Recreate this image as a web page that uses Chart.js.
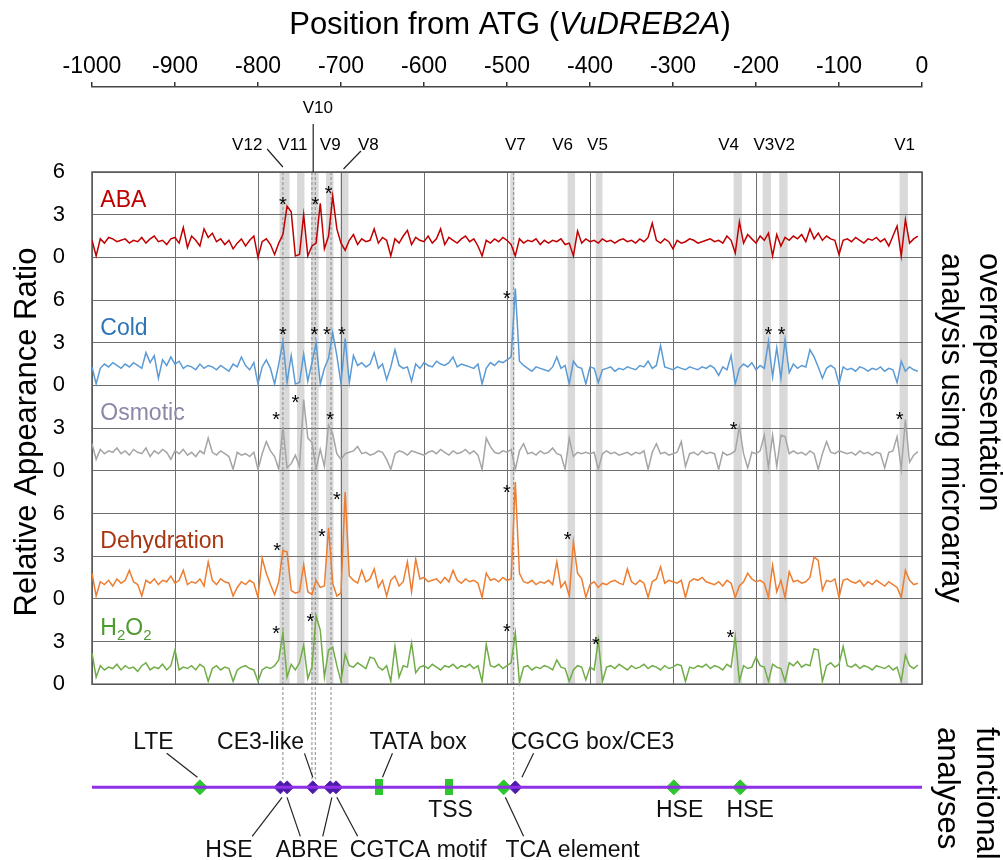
<!DOCTYPE html>
<html>
<head>
<meta charset="utf-8">
<title>VuDREB2A promoter</title>
<script src="https://cdn.jsdelivr.net/npm/chart.js@4.4.1/dist/chart.umd.min.js"></script>
<style>
  html, body { margin: 0; padding: 0; background: #fff; }
  #wrap { width: 1003px; height: 860px; }
</style>
</head>
<body>
<div id="wrap"><canvas id="chart" width="1003" height="860"></canvas></div>
<script>
// --- Values: one point every 5 bp, from -1000 upward ---
const START_POS = -1000;
const STEP = 5;

const abaValues = [
  1.2, 0.1, 1.3, 1.0, 1.4, 1.3, 1.1, 1.2, 1.3, 1.0,
  1.2, 1.1, 1.4, 1.0, 1.3, 1.5, 1.1, 1.2, 0.9, 1.3,
  1.4, 1.0, 2.1, 0.7, 1.5, 1.2, 0.8, 2.0, 1.4, 1.7,
  1.1, 1.3, 0.9, 1.2, 0.6, 1.0, 1.3, 0.8, 1.2, 1.5,
  0.0, 1.1, 1.3, 0.9, 0.2, 1.0, 1.6, 3.6, 3.2, 0.1,
  0.2, 3.0, 0.1, 0.8, 1.0, 3.8, 0.6, 1.5, 4.3, 2.0,
  1.0, 0.5, 1.2, 1.6, 0.9, 1.3, 1.1, 1.2, 2.0, 1.0,
  1.4, 1.2, 0.1, 1.3, 1.0, 1.5, 1.9, 0.9, 1.4, 1.2,
  1.1, 1.5, 1.0, 1.3, 2.0, 0.9, 1.4, 1.2, 1.0, 1.3,
  1.5, 1.1, 1.3, 0.8, 0.1, 1.2, 1.0, 1.3, 1.1, 1.4,
  1.2, 0.9, 0.1, 1.3, 1.0, 1.2, 1.1, 1.3, 0.9, 1.2,
  1.0, 1.2, 1.1, 1.3, 0.9, 1.0, 0.1, 1.85, 1.0, 1.3,
  1.1, 1.2, 1.0, 1.3, 1.1, 1.2, 1.0, 1.2, 1.3, 1.1,
  1.2, 1.0, 1.3, 1.1, 1.4, 2.4, 1.2, 1.0, 1.3, 1.1,
  0.6, 1.2, 1.0, 1.1, 1.3, 1.2, 1.0, 1.1, 1.2, 1.3,
  1.1, 1.2, 1.0, 1.5, 1.2, 0.3, 2.5, 1.0, 1.6, 1.3,
  1.0, 1.5, 1.2, 1.7, 0.1, 1.6, 0.8, 1.4, 1.2, 1.5,
  1.3, 1.6, 1.1, 2.0, 1.3, 1.7, 1.2, 1.5, 1.3, 1.2,
  0.2, 1.2, 1.3, 1.1, 1.4, 1.2, 1.0, 1.3, 1.2, 1.4,
  1.1, 1.3, 0.8, 1.5, 2.2, 0.1, 2.65, 1.0, 1.3, 1.5
];

const coldValues = [
  1.3, 0.1, 1.2, 1.5, 1.3, 1.6, 1.4, 1.2, 1.5, 1.3,
  1.6, 1.4, 1.2, 2.3, 1.6, 2.1, 0.5, 1.8, 1.4, 2.0,
  1.5, 1.7, 1.2, 1.4, 1.3, 1.1, 1.5, 1.2, 1.4, 1.3,
  1.1, 1.4, 1.2, 1.0, 1.5, 1.3, 2.0, 1.4, 1.1, 1.6,
  0.1, 1.3, 1.8, 1.2, 0.1, 1.5, 3.1, 0.2, 2.1, 0.1,
  0.2, 2.2, 0.3, 1.6, 3.0, 0.1, 1.2, 1.9, 3.7, 2.1,
  0.1, 3.3, 0.2, 2.1, 1.4, 1.6, 1.3, 1.5, 2.3, 1.2,
  1.5, 0.4, 1.3, 2.5, 1.4, 1.2, 1.3, 0.3, 1.5, 1.2,
  1.6, 1.4, 1.3, 1.7, 1.5, 1.4, 1.6, 2.0, 1.3, 1.5,
  1.4, 1.3, 1.2, 1.5, 0.1, 1.2, 1.6, 1.4, 1.7, 1.6,
  1.8, 2.0, 6.8, 1.7, 1.4, 1.2, 1.0, 1.3, 1.2, 1.1,
  1.0, 1.3, 2.0, 1.2, 1.4, 0.1, 1.7, 1.3, 1.2, 0.1,
  1.3, 1.2, 0.2, 1.1, 1.2, 1.3, 1.0, 1.2, 1.1, 1.3,
  1.2, 1.1, 1.4, 1.3, 1.7, 1.2, 1.4, 2.8, 1.3, 1.2,
  1.1, 1.3, 1.2, 1.1, 1.3, 1.2, 1.1, 1.3, 1.2, 1.4,
  1.2, 0.7, 1.3, 1.1, 2.1, 0.1, 1.2, 1.5, 1.3, 1.6,
  1.1, 1.4, 1.2, 3.1, 0.6, 2.65, 0.5, 3.2, 0.9, 1.5,
  1.2, 1.4, 1.3, 2.5, 2.0, 1.3, 0.5, 1.2, 1.4, 1.2,
  0.1, 1.3, 1.1, 1.2, 1.0, 1.3, 1.2, 1.0, 1.2, 1.1,
  1.3, 1.0, 1.2, 1.1, 0.2, 1.7, 1.0, 1.3, 1.1, 1.0
];

const osmoticValues = [
  1.9, 0.8, 1.5, 1.2, 1.4, 1.3, 1.6, 1.2, 1.4, 1.1,
  1.5, 1.3, 1.2, 1.6, 1.0, 1.4, 1.2, 1.5, 1.3, 0.8,
  1.4, 1.2, 1.5, 1.1, 1.3, 1.0, 1.4, 1.2, 2.3, 1.3,
  1.1, 1.4, 1.2, 1.0, 0.1, 1.3, 1.1, 1.2, 1.0, 1.3,
  0.1, 1.2, 2.05, 1.4, 1.0, 0.1, 3.1, 0.2, 0.5, 1.1,
  0.3, 5.0, 2.3, 2.0, 0.1, 1.5, 0.3, 3.2, 2.6, 1.2,
  0.8, 1.2, 1.3, 1.4, 1.7, 1.2, 1.3, 1.1, 1.2, 1.4,
  1.3, 0.8, 0.1, 1.2, 1.4, 1.3, 1.1, 1.4, 1.3, 1.2,
  1.1, 1.3, 1.4, 1.2, 1.5, 1.3, 1.1, 1.4, 1.2, 1.3,
  1.5, 1.2, 1.4, 1.1, 0.1, 2.3, 1.7, 1.3, 1.2, 1.4,
  1.3, 1.5, 0.1, 1.4, 1.9, 1.2, 1.3, 1.1, 1.4, 1.2,
  1.3, 1.6, 1.2, 1.1, 0.1, 2.3, 1.0, 1.3, 1.2, 1.3,
  1.2, 1.3, 0.1, 1.2, 1.4, 1.2, 1.3, 1.1, 1.2, 1.3,
  1.1, 1.3, 1.2, 1.4, 0.1, 1.3, 1.9, 1.2, 1.3, 1.1,
  1.2, 1.3, 2.05, 0.3, 1.2, 1.3, 1.1, 1.4, 1.2, 1.3,
  1.2, 0.1, 1.3, 1.1, 1.2, 1.4, 3.1, 1.2, 0.2, 1.3,
  1.2, 1.4, 2.5, 0.2, 2.5, 0.3, 2.5, 2.4, 1.2, 1.4,
  1.2, 1.3, 1.1, 1.4, 1.2, 0.1, 1.2, 2.05, 1.3, 1.2,
  1.4, 1.3, 1.2, 1.3, 1.1, 1.4, 1.2, 1.3, 1.1, 1.3,
  1.2, 0.2, 1.3, 1.4, 2.4, 0.1, 3.6, 0.6, 1.1, 1.35
];

const dehydrationValues = [
  1.8, 0.2, 1.2, 1.0, 1.3, 0.9, 1.4, 1.1, 1.3, 2.0,
  1.2, 1.0, 0.2, 1.3, 1.1, 1.4, 1.0, 1.3, 1.2, 1.6,
  1.1, 1.3, 2.0, 1.0, 1.2, 1.1, 1.4, 0.9, 2.6, 1.3,
  1.0, 1.4, 1.2, 1.1, 0.2, 0.8, 1.2, 1.0, 1.3, 1.1,
  0.1, 2.85, 1.8, 1.0, 0.3, 1.2, 3.4, 3.3, 0.6, 0.4,
  0.5, 2.4, 0.5, 0.3, 1.3, 0.8, 0.9, 5.0, 1.1, 0.2,
  0.4, 7.5, 1.6, 1.3, 1.1, 2.0, 1.2, 1.4, 2.1, 0.8,
  1.3, 0.2, 1.3, 1.6, 0.9, 1.2, 2.6, 0.5, 2.8, 1.4,
  1.5, 1.2, 1.3, 1.4, 1.1, 1.5, 1.2, 2.0, 1.3, 1.1,
  1.4, 1.2, 1.3, 1.1, 0.1, 1.8, 1.3, 1.4, 1.2, 1.5,
  1.3, 1.4, 8.2, 1.8, 1.2, 1.1, 1.3, 1.0, 1.2, 1.1,
  1.3, 1.0, 2.6, 0.8, 1.2, 0.2, 4.0, 1.8, 1.4, 0.1,
  1.0, 1.2, 0.8, 1.1, 1.0, 1.2, 1.3, 1.1, 1.0, 2.1,
  1.2, 1.0, 1.3, 1.1, 0.1, 1.2, 1.4, 2.25, 1.1, 1.3,
  1.2, 1.1, 1.3, 0.1, 1.2, 1.4, 1.3, 1.5, 1.2, 1.1,
  1.0, 1.2, 0.9, 1.3, 1.1, 0.1, 0.9, 1.2, 1.8, 1.4,
  1.2, 1.3, 1.1, 0.1, 2.35, 0.5, 1.3, 0.1, 1.9, 1.2,
  1.3, 1.1, 1.2, 1.5, 2.95, 2.7, 0.6, 1.3, 1.2, 1.4,
  0.1, 1.3, 1.4, 1.2, 1.1, 1.3, 0.9, 1.2, 1.0, 1.3,
  1.1, 0.9, 1.2, 1.0, 0.8, 0.1, 2.0, 1.3, 1.0, 1.1
];

const h2o2Values = [
  2.2, 0.5, 1.3, 1.0, 1.2, 1.1, 1.4, 1.0, 1.3, 1.1,
  1.2, 0.9, 1.3, 1.5, 1.0, 1.2, 1.1, 1.4, 1.0, 1.3,
  2.4, 1.0, 1.2, 1.1, 1.3, 1.0, 1.4, 1.2, 0.2, 1.1,
  1.3, 1.0, 1.2, 1.1, 0.2, 1.0, 1.2, 1.3, 1.1, 1.0,
  0.2, 1.0, 1.2, 1.1, 1.3, 1.7, 3.6, 0.5, 1.4, 1.0,
  1.5, 2.75, 0.4, 1.2, 4.8, 3.8, 0.5, 2.4, 2.6, 1.3,
  0.2, 2.1, 1.3, 1.2, 1.5, 1.3, 1.1, 1.9, 1.8, 1.2,
  1.0, 1.3, 0.2, 2.65, 0.5, 1.3, 1.2, 2.9, 0.8, 1.2,
  1.3, 1.1, 1.4, 1.2, 1.0, 1.3, 1.2, 1.4, 1.1, 1.3,
  1.2, 1.4, 1.1, 1.3, 0.2, 2.8, 1.3, 1.2, 1.4, 1.1,
  1.3, 1.5, 3.6, 0.1, 1.2, 1.3, 1.0, 1.2, 1.1, 1.3,
  1.2, 1.0, 1.7, 1.2, 1.1, 0.2, 1.0, 1.3, 1.2, 0.3,
  1.2, 1.0, 3.1, 0.2, 1.2, 1.3, 1.1, 1.4, 1.2, 1.0,
  1.3, 1.1, 1.2, 1.4, 1.1, 1.3, 1.2, 1.0, 1.3, 1.1,
  1.2, 1.4, 1.3, 0.2, 1.2, 1.1, 1.3, 1.2, 1.4, 1.1,
  1.3, 1.2, 1.0, 1.4, 1.2, 3.35, 0.2, 1.3, 1.1, 1.2,
  1.9, 1.3, 1.2, 0.2, 1.4, 1.2, 1.1, 0.2, 1.5, 1.3,
  1.6, 1.2, 1.4, 1.3, 2.5, 2.4, 0.2, 1.3, 1.5, 1.2,
  1.4, 2.65, 1.3, 1.2, 1.4, 1.1, 1.3, 1.2, 1.0, 1.3,
  1.2, 1.1, 1.3, 1.0, 1.2, 0.2, 2.05, 1.3, 1.1, 1.35
];

// significant peaks (*): [position, height of the mark]
const abaStars = [[-770, 4.0], [-731, 4.0], [-715, 4.8]];
const coldStars = [[-770, 3.9], [-732, 3.9], [-717, 3.9], [-699, 3.9], [-500, 6.4], [-185, 3.9], [-169, 3.9]];
const osmoticStars = [[-778, 3.9], [-755, 5.1], [-713, 3.9], [-227, 3.2], [-27, 3.9]];
const dehydrationStars = [[-777, 3.7], [-723, 4.7], [-705, 7.3], [-500, 7.8], [-427, 4.5]];
const h2o2Stars = [[-778, 3.9], [-737, 4.7], [-500, 4.0], [-393, 3.1], [-231, 3.6]];

// overrepresented sites V1..V12, [from, to]
const siteNames = ['V12', 'V11', 'V10', 'V9', 'V8', 'V7', 'V6', 'V5', 'V4', 'V3', 'V2', 'V1'];
const siteBands = [
  [-774, -762], [-753, -744], [-736, -727], [-718, -709], [-701, -691], [-496, -491],
  [-427, -418], [-393, -385], [-227, -217], [-192, -182], [-172, -162], [-27, -17]
];

// functional analyses: elements on the promoter
const purpleSites = [-773, -765, -734, -713, -706, -490];
const greenSites = [-870, -504, -299, -219];
const coreSites = [-654, -570];           // TATA box, TSS

const xTicks = { min: -1000, max: 0, step: 100 };
const yTickText = ['0', '3', '0', '3', '6', '0', '3', '0', '3', '6', '0', '3', '6'];

// --- layout ---
const seriesNames = ['ABA', 'Cold', 'Osmotic', 'Dehydration', 'H2O2'];
const seriesValues = [abaValues, coldValues, osmoticValues, dehydrationValues, h2o2Values];
const seriesStars = [abaStars, coldStars, osmoticStars, dehydrationStars, h2o2Stars];
const panelBase = [30, 21, 15, 6, 0];    // where each panel's 0 sits on the shared axis
const lineColors = ['#c00000', '#5b9bd5', '#a5a5a5', '#ed7d31', '#70ad47'];
const labelColors = ['#c00000', '#2e75b6', '#8a88a6', '#a8350f', '#4e9a2c'];
const TRACK_Y = -7.25;
const FONT = '"Liberation Sans", Arial, sans-serif';

const positions = abaValues.map((v, i) => START_POS + i * STEP);

const siteLabels = [
  { text: 'V12', at: -813, raise: 27 }, { text: 'V11', at: -758, raise: 27 },
  { text: 'V10', at: -728, raise: 64 }, { text: 'V9', at: -713, raise: 27 },
  { text: 'V8', at: -667, raise: 27 }, { text: 'V7', at: -490, raise: 27 },
  { text: 'V6', at: -433, raise: 27 }, { text: 'V5', at: -391, raise: 27 },
  { text: 'V4', at: -233, raise: 27 }, { text: 'V3V2', at: -178, raise: 27 },
  { text: 'V1', at: -21, raise: 27 }
];
const siteLeaders = [[-733.5, 48, -733.5, 0], [-789, 23, -770, 5], [-676, 21, -697, 3]];
const dashedSites = [-770, -735, -731, -712, -492];

const elementLabels = [
  { text: 'LTE', at: -926, row: 'top', leaders: [[-910, -873]] },
  { text: 'CE3-like', at: -797, row: 'top', leaders: [[-744, -734]] },
  { text: 'TATA box', at: -607, row: 'top', leaders: [[-638, -650]] },
  { text: 'CGCG box/CE3', at: -397, row: 'top', leaders: [[-468, -482]] },
  { text: 'TSS', at: -568, row: 'mid', leaders: [] },
  { text: 'HSE', at: -292, row: 'mid', leaders: [] },
  { text: 'HSE', at: -207, row: 'mid', leaders: [] },
  { text: 'HSE', at: -835, row: 'bottom', leaders: [[-771, -807]] },
  { text: 'ABRE', at: -741, row: 'bottom', leaders: [[-765, -749], [-711, -722]] },
  { text: 'CGTCA motif', at: -607, row: 'bottom', leaders: [[-705, -680]] },
  { text: 'TCA element', at: -421, row: 'bottom', leaders: [[-502, -480]] }
];

// tall green box used for TATA / TSS
function boxMarker() {
  const c = document.createElement('canvas');
  c.width = 8; c.height = 16;
  const g = c.getContext('2d');
  g.fillStyle = '#2ec52e';
  g.fillRect(0, 0, 8, 16);
  return c;
}

const datasets = seriesValues.map((vals, s) => ({
  label: seriesNames[s],
  data: vals.map((v, i) => ({ x: positions[i], y: v + panelBase[s] })),
  borderColor: lineColors[s],
  borderWidth: 1.5,
  pointRadius: 0,
  tension: 0
}));

datasets.push({
  label: 'promoter',
  data: [{ x: xTicks.min, y: TRACK_Y }, { x: xTicks.max, y: TRACK_Y }],
  borderColor: '#8f2fe8',
  borderWidth: 3,
  pointRadius: 0
});
datasets.push({
  label: 'green elements',
  data: greenSites.map(p => ({ x: p, y: TRACK_Y })),
  showLine: false,
  pointStyle: 'rectRot',
  pointRadius: 7.5,
  pointBackgroundColor: '#2ec52e',
  pointBorderColor: '#2ec52e'
});
datasets.push({
  label: 'core elements',
  data: coreSites.map(p => ({ x: p, y: TRACK_Y })),
  showLine: false,
  pointStyle: boxMarker()
});
datasets.push({
  label: 'purple elements',
  data: purpleSites.map(p => ({ x: p, y: TRACK_Y })),
  showLine: false,
  pointStyle: 'rectRot',
  pointRadius: 6.5,
  pointBackgroundColor: '#4b1aa6',
  pointBorderColor: '#5a22b8',
  pointBorderWidth: 1
});

function text(ctx, str, x, y, font, color, align, base) {
  ctx.font = font;
  ctx.fillStyle = color || '#000';
  ctx.textAlign = align || 'center';
  ctx.textBaseline = base || 'middle';
  ctx.fillText(str, x, y);
}

function line(ctx, x1, y1, x2, y2) {
  ctx.beginPath();
  ctx.moveTo(x1, y1);
  ctx.lineTo(x2, y2);
  ctx.stroke();
}

const decorPlugin = {
  id: 'decor',
  beforeDraw(chart) {
    const { ctx, scales: { x, y } } = chart;
    const top = y.getPixelForValue(36), bottom = y.getPixelForValue(0);
    ctx.save();
    ctx.fillStyle = '#d9d9d9';
    siteBands.forEach(([a, b]) => {
      const x1 = x.getPixelForValue(a), x2 = x.getPixelForValue(b);
      ctx.fillRect(x1, top, x2 - x1, bottom - top);
    });
    ctx.restore();
  },
  beforeDatasetsDraw(chart) {
    const { ctx, scales: { x, y } } = chart;
    const top = y.getPixelForValue(36), bottom = y.getPixelForValue(0);
    const left = x.getPixelForValue(xTicks.min), right = x.getPixelForValue(xTicks.max);
    const track = y.getPixelForValue(TRACK_Y);
    ctx.save();
    // vertical grid lines every 100 bp
    ctx.strokeStyle = '#6e6e6e';
    ctx.lineWidth = 1;
    x.ticks.forEach(t => {
      const px = Math.round(x.getPixelForValue(t.value)) + 0.5;
      line(ctx, px, top, px, bottom);
    });
    // dashed lines from the sites down to the elements
    ctx.strokeStyle = '#8a8a8a';
    ctx.setLineDash([3, 2]);
    dashedSites.forEach(p => {
      const px = x.getPixelForValue(p);
      line(ctx, px, top, px, track - 8);
    });
    ctx.setLineDash([]);
    // frame
    ctx.strokeStyle = '#555';
    ctx.lineWidth = 1.5;
    ctx.strokeRect(left, top, right - left, bottom - top);
    ctx.restore();
  },
  afterDatasetsDraw(chart) {
    const { ctx, scales: { x, y } } = chart;
    const top = y.getPixelForValue(36);
    const track = y.getPixelForValue(TRACK_Y);
    ctx.save();

    // stars
    seriesStars.forEach((stars, s) => {
      stars.forEach(([p, h]) => {
        text(ctx, '*', x.getPixelForValue(p), y.getPixelForValue(h + panelBase[s]) + 11, '20px ' + FONT, '#000', 'center', 'alphabetic');
      });
    });

    // panel names
    seriesNames.forEach((name, s) => {
      const px = x.getPixelForValue(-990), py = y.getPixelForValue(4 + panelBase[s]);
      if (name === 'H2O2') {
        let cx = px;
        const parts = [['H', 23, 0], ['2', 15, 5], ['O', 23, 0], ['2', 15, 5]];
        parts.forEach(([t, size, drop]) => {
          text(ctx, t, cx, py + 8 + drop, size + 'px ' + FONT, labelColors[s], 'left', 'alphabetic');
          cx += ctx.measureText(t).width;
        });
      } else {
        text(ctx, name, px, py, '23px ' + FONT, labelColors[s], 'left', 'middle');
      }
    });

    // site names above the panels
    siteLabels.forEach(l => {
      text(ctx, l.text, x.getPixelForValue(l.at), top - l.raise, '17px ' + FONT, '#000', 'center', 'middle');
    });
    ctx.strokeStyle = '#222';
    ctx.lineWidth = 1.2;
    siteLeaders.forEach(([p1, d1, p2, d2]) => {
      line(ctx, x.getPixelForValue(p1), top - d1, x.getPixelForValue(p2), top - d2);
    });

    // element labels and leaders
    const rowY = { top: track - 45, mid: track + 23, bottom: track + 63 };
    elementLabels.forEach(l => {
      text(ctx, l.text, x.getPixelForValue(l.at), rowY[l.row], '23px ' + FONT, '#111', 'center', 'middle');
      l.leaders.forEach(([p1, p2]) => {
        if (l.row === 'top') {
          line(ctx, x.getPixelForValue(p1), track - 34, x.getPixelForValue(p2), track - 10);
        } else {
          line(ctx, x.getPixelForValue(p1), track + 10, x.getPixelForValue(p2), track + 49);
        }
      });
    });
    ctx.restore();
  },
  afterDraw(chart) {
    const { ctx } = chart;
    ctx.save();
    // title with italic gene name
    const big = '31px ' + FONT;
    const parts = [['Position from ATG (', big], ['VuDREB2A', 'italic ' + big], [')', big]];
    let total = 0;
    parts.forEach(([t, f]) => { ctx.font = f; total += ctx.measureText(t).width; });
    let cx = 510 - total / 2;
    parts.forEach(([t, f]) => {
      text(ctx, t, cx, 34, f, '#000', 'left', 'alphabetic');
      cx += ctx.measureText(t).width;
    });

    // y axis title
    ctx.save();
    ctx.translate(36, 432);
    ctx.rotate(-Math.PI / 2);
    text(ctx, 'Relative Appearance Ratio', 0, 0, big, '#000', 'center', 'alphabetic');
    ctx.restore();

    // right-hand side notes
    const side = (lines, y0) => {
      lines.forEach(([t, bx]) => {
        ctx.save();
        ctx.translate(bx, y0);
        ctx.rotate(Math.PI / 2);
        text(ctx, t, 0, 0, big, '#000', 'left', 'alphabetic');
        ctx.restore();
      });
    };
    side([['overrepresentation', 980], ['analysis using microarray', 942]], 253);
    side([['functional', 977], ['analyses', 938]], 727);
    ctx.restore();
  }
};

Chart.defaults.font.family = FONT;

new Chart(document.getElementById('chart'), {
  type: 'line',
  data: { datasets },
  plugins: [decorPlugin],
  options: {
    responsive: false,
    animation: false,
    devicePixelRatio: 1,
    layout: { padding: { left: 0, right: 81, top: 0, bottom: 62 } },
    plugins: { legend: { display: false }, tooltip: { enabled: false } },
    scales: {
      x: {
        type: 'linear',
        position: 'top',
        weight: 1,
        min: xTicks.min,
        max: xTicks.max,
        ticks: {
          stepSize: xTicks.step, color: '#000', font: { size: 23 }, padding: 2,
          maxRotation: 0, autoSkip: false,
          callback: v => String(v)
        },
        grid: { drawOnChartArea: false, drawTicks: true, tickLength: 5, color: '#333', lineWidth: 1.5 },
        border: { color: '#444', width: 1.5 },
        afterFit: s => { s.height = 87; }
      },
      gap: {
        type: 'linear',
        axis: 'x',
        position: 'top',
        weight: 0,
        ticks: { display: false },
        grid: { display: false },
        border: { display: false },
        afterFit: s => { s.height = 85; }
      },
      y: {
        type: 'linear',
        min: -8,
        max: 36,
        afterBuildTicks: s => {
          s.ticks = yTickText.map((t, i) => ({ value: i * 3 }));
        },
        ticks: {
          color: '#000',
          font: { size: 22 },
          padding: 27,
          callback: v => yTickText[v / 3]
        },
        grid: { color: '#6e6e6e', lineWidth: 1, drawTicks: false },
        border: { display: false },
        afterFit: s => { s.width = 92; }
      }
    }
  }
});
</script>
</body>
</html>
